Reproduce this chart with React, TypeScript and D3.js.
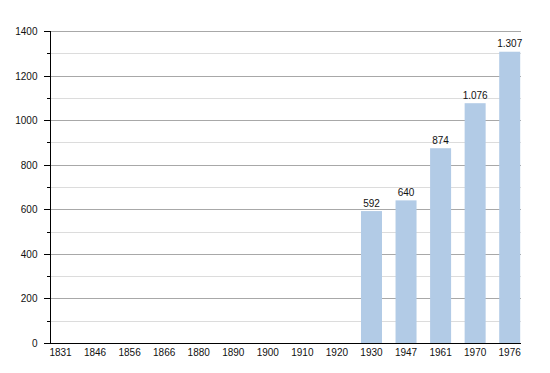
import React from "react";
import * as d3 from "d3";

const years = ["1831","1846","1856","1866","1880","1890","1900","1910","1920","1930","1947","1961","1970","1976"];
const population: (number | null)[] = [null,null,null,null,null,null,null,null,null,592,640,874,1076,1307];
const majorTicks = [0,200,400,600,800,1000,1200,1400];
const minorTicks = [100,300,500,700,900,1100,1300];

const W = 550, H = 373;
const left = 50, right = 521, top = 31, bottom = 343;

export default function App() {
  const y = d3.scaleLinear().domain([0, 1400]).range([bottom, top]);
  const x = d3.scalePoint<string>().domain(years).range([60.5, 509.7]);
  const barW = 21;
  const fmt = (v: number) => d3.format(",")(v).replace(/,/g, ".");
  const font = "'Liberation Sans', Arial, sans-serif";
  return (
    <svg width={W} height={H} style={{ position: "absolute", left: 0, top: 0, background: "#fff" }} fontFamily={font}>
      {minorTicks.map(t => (
        <g key={"m" + t}>
          <line x1={left} x2={right} y1={Math.round(y(t)) + 0.5} y2={Math.round(y(t)) + 0.5} stroke="#dcdcdc" strokeWidth={1} />
          <line x1={left - 3} x2={left} y1={Math.round(y(t)) + 0.5} y2={Math.round(y(t)) + 0.5} stroke="#000" strokeWidth={1} />
        </g>
      ))}
      {majorTicks.map(t => (
        <g key={"M" + t}>
          {t > 0 && <line x1={left} x2={right} y1={Math.round(y(t)) + 0.5} y2={Math.round(y(t)) + 0.5} stroke="#a8a8a8" strokeWidth={1} />}
          <line x1={left - 6} x2={left} y1={Math.round(y(t)) + 0.5} y2={Math.round(y(t)) + 0.5} stroke="#000" strokeWidth={1} />
          <text x={37.5} y={y(t) + 4} textAnchor="end" fontSize={10} fill="#111">{t}</text>
        </g>
      ))}
      {years.map((yr, i) => {
        const v = population[i];
        const cx = x(yr) as number;
        return (
          <g key={yr}>
            {v != null && (
              <>
                <rect x={cx - barW / 2} y={y(v)} width={barW} height={bottom - y(v)} fill="#b2cbe6" />
                <text x={cx} y={y(v) - 4.5} textAnchor="middle" fontSize={10} fill="#111">{fmt(v)}</text>
              </>
            )}
            <text x={cx} y={355.5} textAnchor="middle" fontSize={10} fill="#111">{yr}</text>
          </g>
        );
      })}
      <line x1={left + 0.5} x2={left + 0.5} y1={top} y2={bottom} stroke="#000" strokeWidth={1} />
      <line x1={left} x2={right} y1={bottom + 0.5} y2={bottom + 0.5} stroke="#000" strokeWidth={1} />
    </svg>
  );
}
